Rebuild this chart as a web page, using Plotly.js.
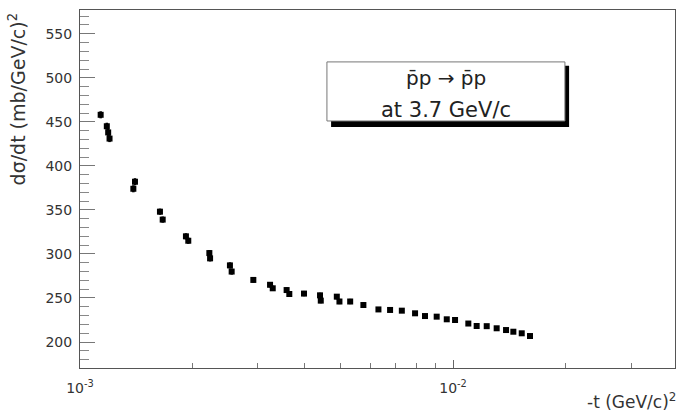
<!DOCTYPE html>
<html>
<head>
<meta charset="utf-8">
<script src="https://cdn.plot.ly/plotly-3.0.1.min.js"></script>
<style>html,body{margin:0;padding:0;background:#fff;}#chart{width:678px;height:417px;}</style>
</head>
<body>
<div id="chart"></div>
<script>
// -t values in (GeV/c)^2
const tValues = [0.001136, 0.00118, 0.00119, 0.0012, 0.001404, 0.00139, 0.001638, 0.001666,
  0.001923, 0.001951, 0.002222, 0.002232, 0.002523, 0.00255, 0.002915, 0.003232, 0.003286,
  0.00358, 0.00364, 0.003986, 0.0044, 0.00442, 0.00488, 0.00496, 0.0053, 0.00575, 0.00631,
  0.00678, 0.00729, 0.00791, 0.00841, 0.00904, 0.00962, 0.010125, 0.01099, 0.01157, 0.01231,
  0.01309, 0.01387, 0.01451, 0.01528, 0.01608];
// dsigma/dt in mb/(GeV/c)^2
const dsdtValues = [458, 445, 438, 431, 382, 374, 348, 339, 320, 315, 301, 295, 287, 280, 270.5,
  265, 261, 259, 254.5, 255, 253, 247, 251.5, 246, 246, 242, 237, 236.4, 235.6, 232.6, 229.5,
  228.8, 225.8, 225, 221, 218.2, 218, 215.6, 213.6, 211.7, 209.9, 206.8];
const dsdtErrors = [4, 4, 4, 4, 4, 4, 3.5, 3.5, 3.5, 3.5, 3.5, 3.5, 3.5, 3.5, 3, 3, 3, 3, 3, 3, 3, 3,
  3, 3, 3, 3, 2.5, 2.5, 2.5, 2.5, 2.5, 2.5, 2.5, 2.5, 2.5, 2.5, 2.5, 2.5, 2.5, 2.5, 2.5, 2.5];
const xMajorTicks = [0.001, 0.01];
const xMajorLabels = ['10<sup>-3</sup>', '10<sup>-2</sup>'];
const xMinorTicks = [0.002, 0.003, 0.004, 0.005, 0.006, 0.007, 0.008, 0.009, 0.02, 0.03];
const yTicks = [200, 250, 300, 350, 400, 450, 500, 550];

const font = 'DejaVu Sans, Arial, sans-serif';

const trace = {
  x: tValues, y: dsdtValues, type: 'scatter', mode: 'markers',
  marker: {symbol: 'square', size: 6, color: '#000'},
  error_y: {type: 'data', array: dsdtErrors, visible: true, color: '#000', thickness: 2.5, width: 0},
  hoverinfo: 'x+y', showlegend: false
};

const layout = {
  width: 678, height: 417,
  margin: {l: 80, r: 3, t: 10, b: 49},
  paper_bgcolor: '#fff', plot_bgcolor: '#fff',
  font: {family: font, color: '#333'},
  xaxis: {
    type: 'log', range: [-3, -1.405],
    showgrid: false, zeroline: false,
    showline: true, linecolor: '#555', linewidth: 1, mirror: true,
    ticks: 'inside', ticklen: 8, tickcolor: '#666', tickwidth: 1,
    tickmode: 'array', tickvals: xMajorTicks, ticktext: xMajorLabels,
    tickfont: {size: 14, family: font, color: '#333'},
    ticklabelstandoff: 7,
    minor: {tickmode: 'array', tickvals: xMinorTicks, ticks: 'inside', ticklen: 5, tickcolor: '#777', tickwidth: 1, showgrid: false}
  },
  yaxis: {
    range: [170.5, 577],
    showgrid: false, zeroline: false,
    showline: true, linecolor: '#555', linewidth: 1, mirror: true,
    ticks: 'inside', ticklen: 15, tickcolor: '#777', tickwidth: 1,
    tickmode: 'array', tickvals: yTicks,
    tickfont: {size: 14, family: font, color: '#333'},
    ticklabelstandoff: 4,
    minor: {dtick: 10, ticks: 'inside', ticklen: 9, tickcolor: '#888', tickwidth: 1, showgrid: false}
  },
  shapes: [
    {type: 'rect', xref: 'paper', yref: 'paper', x0: 0.422, x1: 0.822, y0: 0.673, y1: 0.844,
     fillcolor: '#000', line: {width: 0}, layer: 'above'},
    {type: 'rect', xref: 'paper', yref: 'paper', x0: 0.415, x1: 0.815, y0: 0.690, y1: 0.855,
     fillcolor: '#fff', line: {color: '#777', width: 1}, layer: 'above'}
  ],
  annotations: [
    {xref: 'paper', yref: 'paper', x: 0.615, y: 0.810, text: 'p\u0304p \u2192 p\u0304p', showarrow: false,
     font: {size: 20, family: font, color: '#222'}, xanchor: 'center', yanchor: 'middle'},
    {xref: 'paper', yref: 'paper', x: 0.615, y: 0.721, text: 'at 3.7 GeV/c', showarrow: false,
     font: {size: 21, family: font, color: '#222'}, xanchor: 'center', yanchor: 'middle'},
    {xref: 'paper', yref: 'paper', x: -0.106, y: 1.0, text: 'd\u03c3/dt (mb/GeV/c)<sup>2</sup>', showarrow: false,
     textangle: -90, font: {size: 19, family: font, color: '#333'}, xanchor: 'center', yanchor: 'top'},
    {xref: 'paper', yref: 'paper', x: 1.005, y: -0.128, text: '-t (GeV/c)<sup>2</sup>', showarrow: false,
     font: {size: 17, family: font, color: '#333'}, xanchor: 'right', yanchor: 'bottom'}
  ]
};

Plotly.newPlot('chart', [trace], layout, {displayModeBar: false, staticPlot: true});
</script>
</body>
</html>
